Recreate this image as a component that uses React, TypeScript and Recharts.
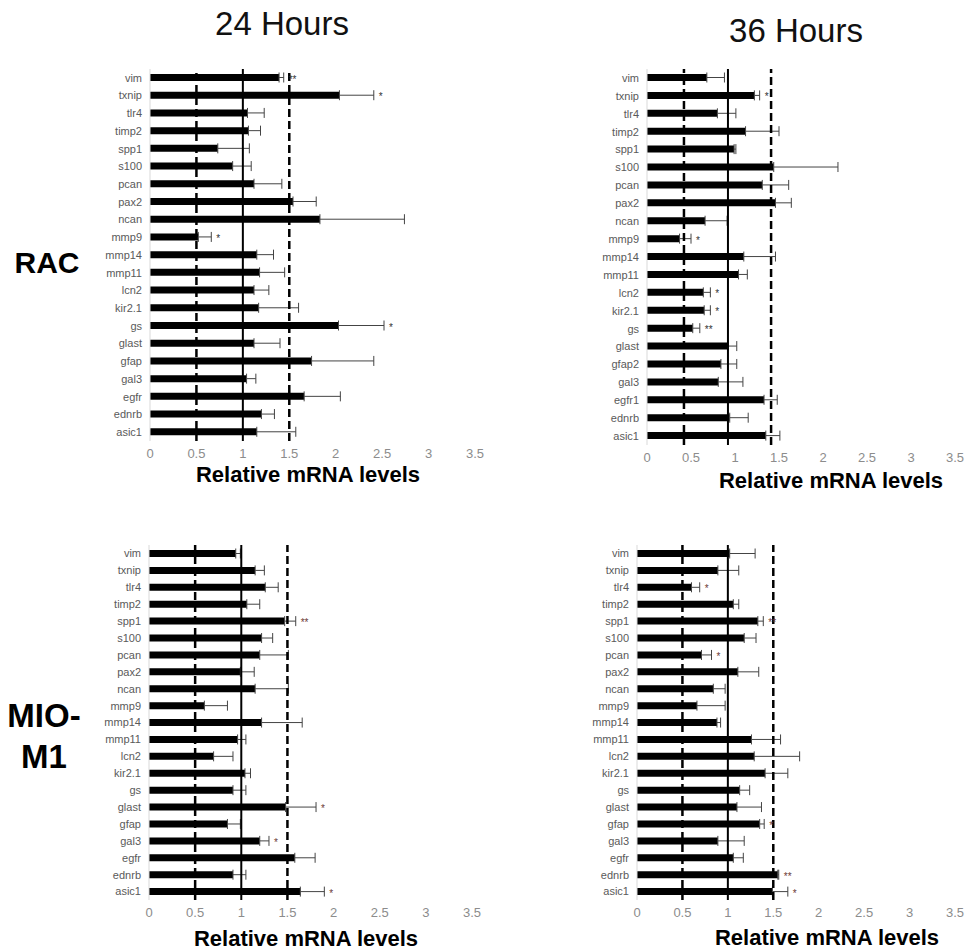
import { BarChart, Bar, XAxis, YAxis, ErrorBar, ReferenceLine, LabelList } from "recharts";

const genes = ["vim", "txnip", "tlr4", "timp2", "spp1", "s100", "pcan", "pax2", "ncan", "mmp9", "mmp14", "mmp11", "lcn2", "kir2.1", "gs", "glast", "gfap", "gal3", "egfr", "ednrb", "asic1"];
const genesRac36 = ["vim", "txnip", "tlr4", "timp2", "spp1", "s100", "pcan", "pax2", "ncan", "mmp9", "mmp14", "mmp11", "lcn2", "kir2.1", "gs", "glast", "gfap2", "gal3", "egfr1", "ednrb", "asic1"];

const xTicks = [0, 0.5, 1, 1.5, 2, 2.5, 3, 3.5];

// RAC, 24 h
const rac24Values = [1.39, 2.04, 1.05, 1.06, 0.73, 0.89, 1.12, 1.54, 1.83, 0.52, 1.15, 1.18, 1.12, 1.17, 2.03, 1.12, 1.74, 1.04, 1.66, 1.2, 1.15];
const rac24Errors = [0.05, 0.37, 0.18, 0.13, 0.34, 0.2, 0.3, 0.25, 0.91, 0.14, 0.18, 0.27, 0.16, 0.43, 0.49, 0.28, 0.67, 0.1, 0.39, 0.14, 0.42];
const rac24Sig = ["**", "*", "", "", "", "", "", "", "", "*", "", "", "", "", "*", "", "", "", "", "", ""];
const rac24Refs = [0.5, 1, 1.5];

// RAC, 36 h
const rac36Values = [0.68, 1.22, 0.8, 1.12, 0.99, 1.44, 1.31, 1.46, 0.66, 0.37, 1.1, 1.04, 0.64, 0.65, 0.52, 0.92, 0.84, 0.81, 1.33, 0.94, 1.35];
const rac36Errors = [0.2, 0.06, 0.21, 0.38, 0.02, 0.73, 0.3, 0.18, 0.25, 0.13, 0.36, 0.1, 0.08, 0.07, 0.08, 0.1, 0.18, 0.28, 0.15, 0.21, 0.16];
const rac36Sig = ["", "*", "", "", "", "", "", "", "", "*", "", "", "*", "*", "**", "", "", "", "", "", ""];
const rac36Refs = [0.42, 0.92, 1.41];

// MIO-M1, 24 h
const mio24Values = [0.94, 1.15, 1.26, 1.06, 1.47, 1.22, 1.2, 0.99, 1.15, 0.6, 1.22, 0.96, 0.7, 1.04, 0.91, 1.48, 0.85, 1.2, 1.58, 0.91, 1.64];
const mio24Errors = [0.05, 0.1, 0.14, 0.14, 0.12, 0.12, 0.31, 0.15, 0.36, 0.25, 0.44, 0.09, 0.21, 0.06, 0.14, 0.33, 0.14, 0.1, 0.22, 0.14, 0.26];
const mio24Sig = ["", "", "", "", "**", "", "", "", "", "", "", "", "", "", "", "*", "", "*", "", "", "*"];
const mio24Refs = [0.5, 1, 1.5];

// MIO-M1, 36 h
const mio36Values = [1.02, 0.89, 0.6, 1.06, 1.33, 1.18, 0.71, 1.11, 0.84, 0.66, 0.88, 1.26, 1.29, 1.41, 1.13, 1.1, 1.35, 0.89, 1.06, 1.55, 1.49];
const mio36Errors = [0.28, 0.23, 0.09, 0.06, 0.06, 0.13, 0.11, 0.23, 0.13, 0.31, 0.04, 0.32, 0.5, 0.25, 0.11, 0.27, 0.05, 0.29, 0.11, 0.01, 0.17];
const mio36Sig = ["", "", "*", "", "**", "", "*", "", "", "", "", "", "", "", "", "", "*", "", "", "**", "*"];
const mio36Refs = [0.5, 1, 1.5];

interface PanelProps {
  genes: string[];
  values: number[];
  errors: number[];
  sig: string[];
  refs: number[];
  left: number;
  top: number;
  plotWidth: number;
  plotHeight: number;
  right: number;
  starColor: string;
}

const AXIS_W = 110;

function Panel({ genes, values, errors, sig, refs, left, top, plotWidth, plotHeight, right, starColor }: PanelProps) {
  const data = genes.map((gene, i) => ({ gene, value: values[i], err: [0, errors[i]], sig: sig[i] }));

  const renderStar = (props: any) => {
    const { x, y, width, height, index } = props;
    const s = sig[index];
    if (!s) return null;
    const v = values[index];
    const end = Number(x) + (Number(width) * (v + errors[index])) / v;
    return (
      <text x={end + 5} y={Number(y) + Number(height) / 2 + 5} fontSize={10} fill={starColor}>
        {s}
      </text>
    );
  };

  return (
    <div style={{ position: "absolute", left: left - AXIS_W, top }}>
      <BarChart
        layout="vertical"
        width={AXIS_W + plotWidth + right}
        height={plotHeight + 30}
        data={data}
        margin={{ top: 0, right, bottom: 0, left: 0 }}
      >
        <XAxis
          type="number"
          domain={[0, 3.5]}
          ticks={xTicks}
          interval={0}
          allowDataOverflow
          axisLine={false}
          tickLine={false}
          height={30}
          tick={{ fill: "#8c8c8c", fontSize: 13 }}
        />
        <YAxis
          type="category"
          dataKey="gene"
          width={AXIS_W}
          interval={0}
          tickLine={false}
          axisLine={{ stroke: "#d9d9d9" }}
          tick={{ fill: "#5a5a5a", fontSize: 11 }}
        />
        <Bar dataKey="value" fill="#000" barSize={7} isAnimationActive={false}>
          <ErrorBar dataKey="err" direction="x" width={5} stroke="#444" strokeWidth={1} />
          <LabelList dataKey="sig" content={renderStar} />
        </Bar>
        {refs.map((r, i) => (
          <ReferenceLine
            key={i}
            x={r}
            stroke="#000"
            strokeWidth={i === 1 ? 2 : 2.5}
            strokeDasharray={i === 1 ? undefined : "8 4"}
          />
        ))}
      </BarChart>
    </div>
  );
}

export default function App() {
  return (
    <div
      style={{
        position: "absolute",
        left: 0,
        top: 0,
        width: 967,
        height: 951,
        overflow: "hidden",
        background: "#fff",
        fontFamily: "'Liberation Sans', Arial, sans-serif",
      }}
    >
      <Panel genes={genes} values={rac24Values} errors={rac24Errors} sig={rac24Sig} refs={rac24Refs}
        left={150} top={69} plotWidth={325} plotHeight={372} right={24} starColor="#333" />
      <Panel genes={genesRac36} values={rac36Values} errors={rac36Errors} sig={rac36Sig} refs={rac36Refs}
        left={647} top={69} plotWidth={308} plotHeight={376} right={12} starColor="#333" />
      <Panel genes={genes} values={mio24Values} errors={mio24Errors} sig={mio24Sig} refs={mio24Refs}
        left={149} top={545} plotWidth={323} plotHeight={355} right={24} starColor="#6b3a35" />
      <Panel genes={genes} values={mio36Values} errors={mio36Errors} sig={mio36Sig} refs={mio36Refs}
        left={637} top={545} plotWidth={318} plotHeight={355} right={12} starColor="#6b3a35" />

      <svg width={967} height={951} style={{ position: "absolute", left: 0, top: 0, pointerEvents: "none" }}
        fontFamily="'Liberation Sans', Arial, sans-serif">
        <text x={282} y={35} fontSize={33} textAnchor="middle" fill="#111">24 Hours</text>
        <text x={796} y={42} fontSize={33} textAnchor="middle" fill="#111">36 Hours</text>
        <text x={47} y={273} fontSize={30} fontWeight="bold" textAnchor="middle" fill="#000">RAC</text>
        <text x={44} y={727} fontSize={33} fontWeight="bold" textAnchor="middle" fill="#000">MIO-</text>
        <text x={44} y={768} fontSize={33} fontWeight="bold" textAnchor="middle" fill="#000">M1</text>
        <text x={308} y={482} fontSize={22} fontWeight="bold" textAnchor="middle" fill="#000">Relative mRNA levels</text>
        <text x={831} y={488} fontSize={22} fontWeight="bold" textAnchor="middle" fill="#000">Relative mRNA levels</text>
        <text x={306} y={946} fontSize={22} fontWeight="bold" textAnchor="middle" fill="#000">Relative mRNA levels</text>
        <text x={827} y={945} fontSize={22} fontWeight="bold" textAnchor="middle" fill="#000">Relative mRNA levels</text>
      </svg>
    </div>
  );
}
